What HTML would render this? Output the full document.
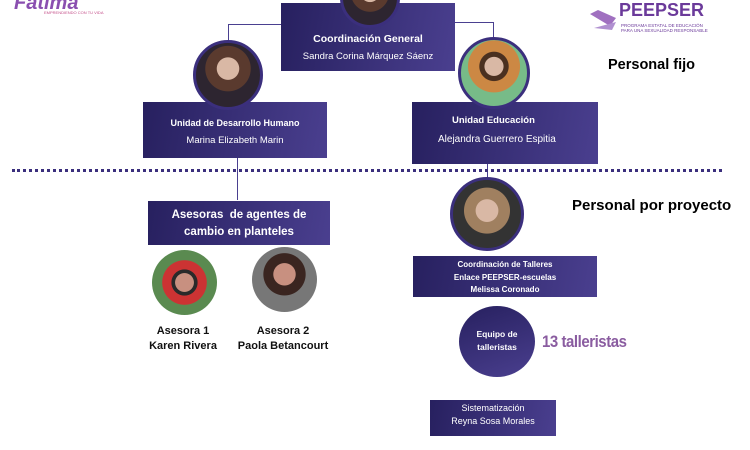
<!DOCTYPE html>
<html><head><meta charset="utf-8"><style>
body{margin:0;width:750px;height:450px;background:#fff;position:relative;overflow:hidden;font-family:"Liberation Sans",sans-serif}
.a{position:absolute}
.box{position:absolute;background:linear-gradient(100deg,#27205f,#4a3f8f);color:#fff;text-align:center;font-size:9.5px;box-sizing:border-box}
.ph{position:absolute;border-radius:50%;background:radial-gradient(circle at 50% 40%,#d9b8a5 0 22%,#5a3a2e 23% 45%,#2d2530 46%);border:3px solid #3b2f7d;box-sizing:border-box}
.ln{position:absolute;background:#4a4090}
.lb{position:absolute;font-weight:bold;font-size:11px;text-align:center;color:#111}
</style></head><body>
<div class="a" style="left:14px;top:-8px;color:#8a4fb0;font-weight:bold;font-size:20px;font-style:italic">Fatima</div>
<div class="a" style="left:44px;top:10px;color:#c4508a;font-size:4px">EMPRENDIENDO CON TU VIDA</div>
<svg class="a" style="left:588px;top:0" width="30" height="32"><polygon points="2,14 22,26 28,18 10,10" fill="#a070c0"/><polygon points="6,28 24,30 28,22" fill="#b090d0"/></svg>
<div class="a" style="left:619px;top:0;color:#6b3a9a;font-weight:bold;font-size:18px">PEEPSER</div>
<div class="a" style="left:621px;top:23px;color:#6b3a9a;font-size:4.5px;line-height:5px">PROGRAMA ESTATAL DE EDUCACIÓN<br>PARA UNA SEXUALIDAD RESPONSABLE</div>
<div class="a" style="left:608px;top:57px;font-weight:bold;font-size:14.5px">Personal fijo</div>
<div class="a" style="left:572px;top:197px;font-weight:bold;font-size:15px">Personal por proyecto</div>

<div class="ln" style="left:228px;top:24px;width:53px;height:1px"></div>
<div class="ln" style="left:228px;top:24px;width:1px;height:18px"></div>
<div class="ln" style="left:455px;top:22px;width:39px;height:1px"></div>
<div class="ln" style="left:493px;top:22px;width:1px;height:16px"></div>
<div class="ln" style="left:237px;top:158px;width:1px;height:42px"></div>
<div class="ln" style="left:487px;top:150px;width:1px;height:30px"></div>

<div class="box" style="left:281px;top:3px;width:174px;height:68px;padding-top:30px"><b style="font-size:10.5px">Coordinación General</b><div style="margin-top:6px">Sandra Corina Márquez Sáenz</div></div>
<div class="ph" style="left:340px;top:-32px;width:60px;height:60px"></div>

<div class="box" style="left:143px;top:102px;width:184px;height:56px;padding-top:16px"><b style="font-size:9px">Unidad de Desarrollo Humano</b><div style="margin-top:6px">Marina Elizabeth Marin</div></div>
<div class="ph" style="left:193px;top:40px;width:70px;height:70px"></div>

<div class="box" style="left:412px;top:102px;width:186px;height:62px;padding-top:13px;text-align:left"><b style="font-size:9.5px;margin-left:40px">Unidad Educación</b><div style="margin-top:8px;margin-left:26px;font-size:10px">Alejandra Guerrero Espitia</div></div>
<div class="ph" style="left:458px;top:37px;width:72px;height:72px;background:radial-gradient(circle at 50% 40%,#d9b8a5 0 18%,#4a3020 19% 28%,#c84 29% 50%,#7b8 51%)"></div>

<div class="a" style="left:12px;top:169px;width:710px;border-top:3px dotted #3b2f7d"></div>

<div class="box" style="left:148px;top:201px;width:182px;height:44px;padding-top:6px;font-size:11.5px;font-weight:bold;line-height:17px">Asesoras &nbsp;de agentes de<br>cambio en planteles</div>
<div class="ph" style="left:152px;top:250px;width:65px;height:65px;border:none;background:radial-gradient(circle at 50% 50%,#c89080 0 20%,#2a2a2a 21% 28%,#c33 29% 48%,#5a8a50 49%)"></div>
<div class="ph" style="left:252px;top:247px;width:65px;height:65px;border:none;background:radial-gradient(circle at 50% 42%,#c89080 0 22%,#3a2520 23% 42%,#777 43%)"></div>
<div class="lb" style="left:133px;top:324px;width:100px;line-height:15px">Asesora 1<br>Karen Rivera</div>
<div class="lb" style="left:228px;top:324px;width:110px;line-height:15px">Asesora 2<br>Paola Betancourt</div>

<div class="ph" style="left:450px;top:177px;width:74px;height:74px;background:radial-gradient(circle at 50% 45%,#d9b8a5 0 22%,#a08060 23% 45%,#333 46%)"></div>
<div class="box" style="left:413px;top:256px;width:184px;height:41px;padding-top:3px;font-size:8px;font-weight:bold;line-height:12.5px">Coordinación de Talleres<br>Enlace PEEPSER-escuelas<br>Melissa Coronado</div>

<div class="a" style="left:459px;top:306px;width:76px;height:71px;border-radius:50%;background:linear-gradient(160deg,#27205f,#4a3f8f);color:#fff;font-size:8.5px;font-weight:bold;text-align:center;line-height:13px;box-sizing:border-box;padding-top:22px">Equipo de<br>talleristas</div>
<div class="a" style="left:542px;top:332px;color:#8a5ca0;font-weight:bold;font-size:17px;letter-spacing:-0.5px;transform:scaleX(0.88);transform-origin:left">13 talleristas</div>

<div class="box" style="left:430px;top:400px;width:126px;height:36px;padding-top:2px;font-size:9px;line-height:13px">Sistematización<br>Reyna Sosa Morales</div>
</body></html>
